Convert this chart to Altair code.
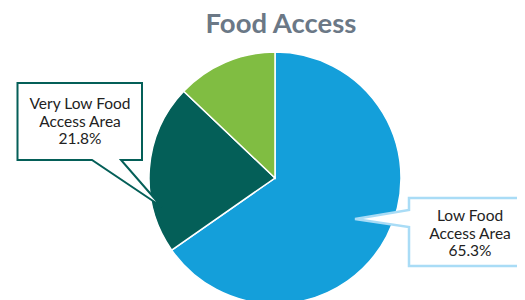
import altair as alt
import pandas as pd

# ---- data ----
categories = ["Low Food Access Area", "Very Low Food Access Area", "Other"]
shares = [65.3, 21.8, 12.9]
slice_order = [1, 2, 3]
slice_colors = ["#149fda", "#045f58", "#80bd42"]

title_text = "Food Access"
left_label = "Very Low Food\nAccess Area\n21.8%"
right_label = "Low Food\nAccess Area\n65.3%"

# callout outlines (screen pixel space)
OFF = 8
left_callout = [(17.5, 83), (142, 83), (142, 160), (121, 160), (162, 207),
                (92, 160), (17.5, 160), (17.5, 83)]
right_callout = [(409, 198), (524, 198), (524, 266), (409, 266), (409, 227),
                 (355, 219), (409, 210), (409, 198)]

W, H = 509, 292
CX, CY, R = 275 - OFF, 178 - OFF, 126

pie_df = pd.DataFrame({"category": categories, "share": shares, "ord": slice_order})

pie = alt.Chart(pie_df).mark_arc(outerRadius=R, stroke="white", strokeWidth=1.5).encode(
    theta=alt.Theta("share:Q", stack=True),
    order=alt.Order("ord:Q"),
    color=alt.Color("category:N", scale=alt.Scale(domain=categories, range=slice_colors), legend=None),
    x=alt.value(CX),
    y=alt.value(CY),
)


def poly_feature(pts):
    return {"type": "Feature", "properties": {},
            "geometry": {"type": "Polygon",
                         "coordinates": [[[x - OFF, y - OFF] for x, y in pts]]}}


left_box = alt.Chart(alt.Data(values=[poly_feature(left_callout)])).mark_geoshape(
    fill="white", stroke="#045f58", strokeWidth=2, strokeJoin="miter"
).project(type="identity", scale=1, translate=[0, 0])

right_box = alt.Chart(alt.Data(values=[poly_feature(right_callout)])).mark_geoshape(
    fill="white", stroke="#a9dcf6", strokeWidth=2.5, strokeJoin="miter"
).project(type="identity", scale=1, translate=[0, 0])

txt_df = pd.DataFrame({"t": [title_text]})
title = alt.Chart(txt_df).mark_text(
    font="Lato", fontWeight="bold", fontSize=27.5, color="#6b7886", align="center", baseline="alphabetic"
).encode(text="t:N", x=alt.value(281 - OFF), y=alt.value(33 - OFF))

lab_df_l = pd.DataFrame({"t": [left_label]})
left_text = alt.Chart(lab_df_l).mark_text(
    font="Lato", fontSize=15.5, color="#222222", align="center", baseline="alphabetic",
    lineBreak="\n", lineHeight=17.5
).encode(text="t:N", x=alt.value(80 - OFF), y=alt.value(109 - OFF))

lab_df_r = pd.DataFrame({"t": [right_label]})
right_text = alt.Chart(lab_df_r).mark_text(
    font="Lato", fontSize=15.5, color="#222222", align="center", baseline="alphabetic",
    lineBreak="\n", lineHeight=17.5
).encode(text="t:N", x=alt.value(470 - OFF), y=alt.value(221 - OFF))

chart = alt.layer(pie, left_box, right_box, title, left_text, right_text).properties(
    width=W, height=H, autosize=alt.AutoSizeParams(type="none"), padding=0
).configure_view(stroke=None)

chart.save("out.html", embed_options={"renderer": "svg", "actions": False})
